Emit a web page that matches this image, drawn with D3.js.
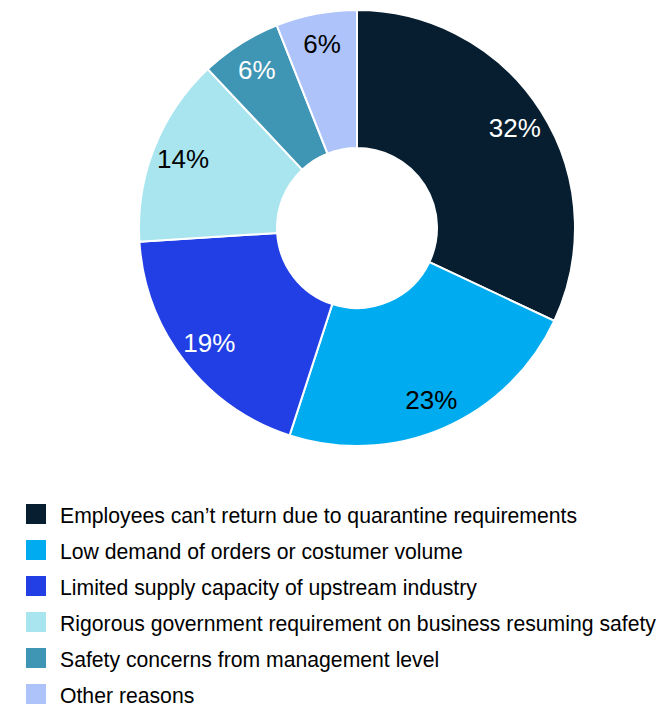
<!DOCTYPE html>
<html>
<head>
<meta charset="utf-8">
<script src="https://cdn.jsdelivr.net/npm/d3@7"></script>
<style>
  html, body { margin: 0; padding: 0; background: #fff; }
  svg { display: block; font-family: Arial, "Liberation Sans", sans-serif; }
</style>
</head>
<body>
<svg id="chart" width="662" height="707"></svg>
<script>
// Reasons for delayed business resumption (share of respondents, %)
const categories = [
  "Employees can\u2019t return due to quarantine requirements",
  "Low demand of orders or costumer volume",
  "Limited supply capacity of upstream industry",
  "Rigorous government requirement on business resuming safety",
  "Safety concerns from management level",
  "Other reasons"
];
const values = [32, 23, 19, 14, 6, 6];
const colors = ["#061e2f", "#00acef", "#213fe4", "#a9e5ef", "#3f96b4", "#adc3fa"];
const labelColors = ["#ffffff", "#000000", "#ffffff", "#000000", "#ffffff", "#000000"];

const data = categories.map((c, i) => ({ category: c, value: values[i], i }));

const svg = d3.select("#chart");
const cx = 357, cy = 228, outerR = 218, innerR = 80;

const pie = d3.pie().sort(null).value(d => d.value);
const arc = d3.arc().innerRadius(innerR).outerRadius(outerR);
const labelArc = d3.arc().innerRadius(187).outerRadius(187);

const g = svg.append("g").attr("transform", `translate(${cx},${cy})`);
const arcs = pie(data);

g.selectAll("path.slice")
  .data(arcs)
  .join("path")
  .attr("class", "slice")
  .attr("d", arc)
  .attr("fill", d => colors[d.data.i])
  .attr("stroke", "#ffffff")
  .attr("stroke-width", 2);

g.selectAll("text.pct")
  .data(arcs)
  .join("text")
  .attr("class", "pct")
  .attr("transform", d => `translate(${labelArc.centroid(d)})`)
  .attr("text-anchor", "middle")
  .attr("dominant-baseline", "central")
  .attr("font-size", 26)
  .attr("fill", d => labelColors[d.data.i])
  .text(d => d.data.value + "%");

// Legend
const legend = svg.append("g").attr("transform", "translate(26,514)");
const rowH = 36;
const rows = legend.selectAll("g.row")
  .data(data)
  .join("g")
  .attr("class", "row")
  .attr("transform", (d, i) => `translate(0,${i * rowH})`);

rows.append("rect")
  .attr("x", 0).attr("y", -10)
  .attr("width", 20).attr("height", 20)
  .attr("fill", d => colors[d.i]);

rows.append("text")
  .attr("x", 34).attr("y", 1)
  .attr("dominant-baseline", "central")
  .attr("font-size", 21.2)
  .attr("fill", "#000")
  .text(d => d.category);
</script>
</body>
</html>
